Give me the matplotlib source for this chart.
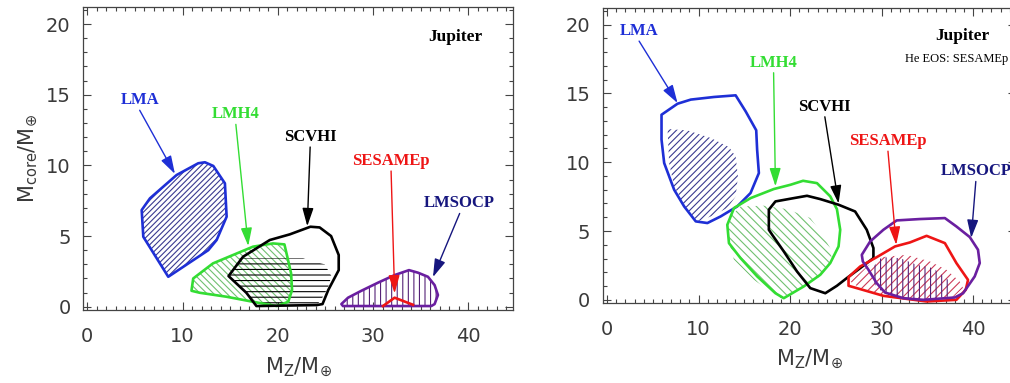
import matplotlib
matplotlib.use("Agg")
import matplotlib.pyplot as plt
from matplotlib.patches import Polygon
from matplotlib.ticker import MultipleLocator

plt.rcParams['font.family'] = ['DejaVu Sans']
plt.rcParams['mathtext.default'] = 'regular'
plt.rcParams['hatch.linewidth'] = 0.8

# ---- left panel: confidence regions (M_Z, M_core) ----
l_lma_x = [5.71, 6.58, 9.38, 11.65, 12.35, 13.23, 14.45, 14.63, 13.58, 12.7, 8.5, 5.88]
l_lma_y = [6.84, 7.67, 9.32, 10.15, 10.22, 9.96, 8.73, 6.37, 4.72, 4.0, 2.12, 4.95]

l_lmh4_x = [10.94, 11.12, 13.2, 15.3, 17.4, 19.5, 20.7, 21.0, 21.4, 21.5, 21.1, 19.9, 17.4, 14.6, 11.8]
l_lmh4_y = [1.13, 2.0, 3.07, 3.66, 4.25, 4.48, 4.41, 3.54, 2.36, 1.18, 0.35, 0.05, 0.35, 0.71, 0.99]

l_scvhi_x = [14.83, 16.36, 19.16, 21.26, 23.43, 24.4, 25.6, 26.4, 26.4, 25.3, 24.7, 24.1, 17.76, 16.7]
l_scvhi_y = [2.17, 3.54, 4.72, 5.12, 5.66, 5.61, 5.0, 3.66, 2.59, 1.18, 0.19, 0.12, 0.05, 0.99]
l_scvhi_hx = [14.83, 16.0, 22.66, 24.93, 25.63, 25.28, 24.58, 24.1, 17.76, 16.7]
l_scvhi_hy = [2.17, 3.42, 3.42, 3.0, 2.17, 1.37, 0.52, 0.12, 0.05, 0.99]

l_sesame_x = [31.05, 32.27, 34.2]
l_sesame_y = [0.05, 0.64, 0.14]

l_lmsocp_x = [26.68, 27.38, 28.78, 30.52, 32.27, 33.78, 34.72, 35.77, 36.47, 36.82, 36.47, 36.12, 26.85]
l_lmsocp_y = [0.19, 0.64, 1.13, 1.7, 2.24, 2.59, 2.41, 2.12, 1.53, 0.83, 0.19, 0.05, 0.05]

# ---- right panel (He EOS: SESAMEp) ----
r_lma_x = [5.95, 7.7, 9.15, 11.69, 14.05, 15.14, 16.3, 16.4, 16.59, 15.68, 14.23, 12.41, 10.96, 9.69, 8.42, 7.33, 6.24, 5.95]
r_lma_y = [13.45, 14.25, 14.55, 14.74, 14.86, 13.7, 12.32, 10.9, 9.21, 7.76, 6.79, 6.06, 5.58, 5.7, 6.79, 8.0, 9.94, 11.64]
r_lma_hx = [6.61, 8.79, 11.33, 13.32, 14.05, 14.3, 14.05, 13.14, 11.33, 9.88, 8.42, 7.33, 6.78]
r_lma_hy = [12.41, 12.31, 11.76, 11.1, 10.42, 8.97, 7.51, 6.67, 6.06, 5.7, 6.91, 8.24, 9.94]

r_lmh4_x = [13.14, 13.87, 15.68, 18.22, 20.04, 21.42, 22.94, 24.39, 25.12, 25.48, 25.3, 24.39, 23.3, 21.49, 19.31, 18.4, 16.41, 14.59, 13.32]
r_lmh4_y = [5.45, 6.67, 7.39, 8.05, 8.36, 8.65, 8.48, 7.52, 6.59, 5.09, 3.88, 2.67, 1.82, 0.97, 0.12, 0.48, 1.7, 3.03, 4.12]
r_lmh4_hx = [13.5, 14.59, 17.13, 19.68, 22.21, 23.3, 24.39, 24.58, 23.3, 21.49, 18.95, 16.04, 13.86, 13.14]
r_lmh4_hy = [6.06, 6.79, 6.84, 6.59, 5.94, 4.97, 3.76, 2.79, 1.7, 0.97, 0.12, 1.45, 2.91, 4.61]

r_scvhi_x = [17.68, 17.68, 18.4, 20.4, 21.85, 23.3, 25.3, 27.11, 28.38, 29.11, 29.11, 27.66, 26.2, 25.12, 23.85, 22.21, 20.76, 19.31, 18.04]
r_scvhi_y = [5.09, 6.55, 7.15, 7.39, 7.56, 7.32, 6.91, 6.42, 5.09, 3.76, 3.03, 2.3, 1.58, 1.02, 0.48, 0.85, 2.06, 3.52, 4.73]

r_sesame_x = [26.39, 26.39, 27.66, 29.47, 31.47, 33.1, 34.92, 36.92, 38.18, 39.45, 39.2, 38.18, 34.92, 30.2, 27.66]
r_sesame_y = [1.02, 1.65, 2.42, 3.1, 3.88, 4.17, 4.65, 4.12, 2.67, 1.45, 0.73, 0.0, -0.12, 0.29, 0.78]
r_sesame_hx = [26.57, 28.39, 30.02, 32.75, 35.28, 37.1, 38.55, 38.91, 37.82, 34.55, 30.93, 27.66]
r_sesame_hy = [1.33, 2.42, 3.1, 3.27, 2.79, 2.18, 1.33, 0.85, 0.2, 0.0, 0.24, 0.85]

r_lmsocp_x = [27.84, 28.75, 30.2, 31.65, 34.19, 36.92, 38.18, 39.64, 40.54, 40.73, 40.18, 38.91, 38.0, 34.56, 32.38, 30.38, 29.47, 28.57, 27.95]
r_lmsocp_y = [3.27, 4.24, 5.09, 5.77, 5.87, 5.94, 5.33, 4.56, 3.64, 2.67, 1.7, 0.48, 0.17, 0.0, 0.12, 0.53, 1.21, 2.18, 2.79]
r_lmsocp_hx = [29.11, 30.02, 32.02, 33.83, 35.64, 37.28, 37.46, 34.55, 32.02, 30.2, 29.11]
r_lmsocp_hy = [2.42, 3.1, 3.03, 2.55, 2.3, 1.45, 0.24, 0.0, 0.12, 0.48, 1.21]

BLUE, BLUE_H = '#1e2fd6', '#3a3a90'
GREEN, GREEN_H = '#33dd33', '#70c070'
RED, RED_H = '#ee1515', '#cc3a58'
PURPLE, PURPLE_H = '#6a1fa0', '#552277'
NAVY = '#16167e'
TXT = '#3a3a3a'


def hatch(ax, x, y, color, pattern):
    ax.add_patch(Polygon(list(zip(x, y)), closed=True, facecolor='none',
                         edgecolor=color, hatch=pattern, linewidth=0, zorder=2))


def outline(ax, x, y, color):
    ax.add_patch(Polygon(list(zip(x, y)), closed=True, facecolor='none',
                         edgecolor=color, linewidth=1.9, joinstyle='round', zorder=3))


def label(ax, text, xy_text, tip, color, acolor=None):
    acolor = acolor or color
    ax.annotate('', xy=tip, xytext=xy_text,
                arrowprops=dict(arrowstyle='-|>,head_length=0.55,head_width=0.17',
                                mutation_scale=20, color=acolor, lw=1.0,
                                shrinkA=0, shrinkB=0), zorder=4)
    ax.text(xy_text[0], xy_text[1] + 0.15, text, color=color, ha='center', va='bottom',
            family='Liberation Serif', weight='bold', fontsize=12, zorder=5)


def style(ax):
    ax.set_xlim(-0.45, 44.7)
    ax.set_ylim(-0.23, 21.2)
    ax.set_xticks([0, 10, 20, 30, 40])
    ax.set_yticks([0, 5, 10, 15, 20])
    ax.xaxis.set_minor_locator(MultipleLocator(1))
    ax.yaxis.set_minor_locator(MultipleLocator(1))
    ax.tick_params(which='both', direction='in', top=True, right=True,
                   color='#444444', width=0.8)
    ax.tick_params(which='major', length=6, labelsize=14, labelcolor=TXT)
    ax.tick_params(axis='x', which='major', pad=12)
    ax.tick_params(axis='y', which='major', pad=9)
    ax.tick_params(which='minor', length=3)
    for s in ax.spines.values():
        s.set_color('#444444')
        s.set_linewidth(0.9)
    ax.set_xlabel(r'M$_{Z}$/M$_{\oplus}$', fontsize=15, color=TXT, labelpad=7)


fig = plt.figure(figsize=(10.1, 3.83), dpi=100)

# left
ax1 = fig.add_axes([0.0822, 0.1906, 0.4257, 0.791])
style(ax1)
hatch(ax1, l_lma_x, l_lma_y, BLUE_H, '//////')
hatch(ax1, l_lmh4_x, l_lmh4_y, GREEN_H, '\\' * 5)
hatch(ax1, l_scvhi_hx, l_scvhi_hy, 'black', '---')
hatch(ax1, l_lmsocp_x, l_lmsocp_y, PURPLE_H, '|||')
outline(ax1, l_lma_x, l_lma_y, BLUE)
outline(ax1, l_lmh4_x, l_lmh4_y, GREEN)
outline(ax1, l_scvhi_x, l_scvhi_y, 'black')
outline(ax1, l_lmsocp_x, l_lmsocp_y, PURPLE)
ax1.plot(l_sesame_x, l_sesame_y, color=RED, lw=1.9, zorder=3)
label(ax1, 'LMA', (5.5, 13.9), (9.2, 9.4), BLUE)
label(ax1, 'LMH4', (15.6, 12.9), (16.9, 4.3), GREEN)
label(ax1, 'SCVHI', (23.4, 11.3), (23.1, 5.7), 'black')
label(ax1, 'SESAMEp', (31.9, 9.6), (32.27, 0.95), RED)
label(ax1, 'LMSOCP', (39.1, 6.6), (36.3, 2.1), NAVY)
ax1.text(38.6, 19.1, 'Jupiter', ha='center', va='center', family='Liberation Serif',
         weight='bold', fontsize=12.5)
ax1.set_ylabel(r'M$_{core}$/M$_{\oplus}$', fontsize=15, color=TXT, labelpad=4)

# right
ax2 = fig.add_axes([0.597, 0.2089, 0.409, 0.770])
style(ax2)
hatch(ax2, r_lma_hx, r_lma_hy, BLUE_H, '/////')
hatch(ax2, r_lmh4_hx, r_lmh4_hy, GREEN_H, '\\' * 4)
hatch(ax2, r_sesame_hx, r_sesame_hy, RED_H, '////')
hatch(ax2, r_lmsocp_hx, r_lmsocp_hy, PURPLE_H, '|||')
outline(ax2, r_lma_x, r_lma_y, BLUE)
outline(ax2, r_lmh4_x, r_lmh4_y, GREEN)
outline(ax2, r_scvhi_x, r_scvhi_y, 'black')
outline(ax2, r_sesame_x, r_sesame_y, RED)
outline(ax2, r_lmsocp_x, r_lmsocp_y, PURPLE)
label(ax2, 'LMA', (3.5, 18.8), (7.7, 14.3), BLUE)
label(ax2, 'LMH4', (18.2, 16.5), (18.4, 8.25), GREEN)
label(ax2, 'SCVHI', (23.8, 13.3), (25.3, 7.0), 'black')
label(ax2, 'SESAMEp', (30.7, 10.8), (31.6, 4.0), RED)
label(ax2, 'LMSOCP', (40.3, 8.6), (39.8, 4.5), NAVY)
ax2.text(38.84, 19.15, 'Jupiter', ha='center', va='center', family='Liberation Serif',
         weight='bold', fontsize=12.5)
ax2.text(38.2, 17.5, 'He EOS: SESAMEp', ha='center', va='center',
         family='Liberation Serif', fontsize=9)

fig.savefig('out.png', dpi=100)
